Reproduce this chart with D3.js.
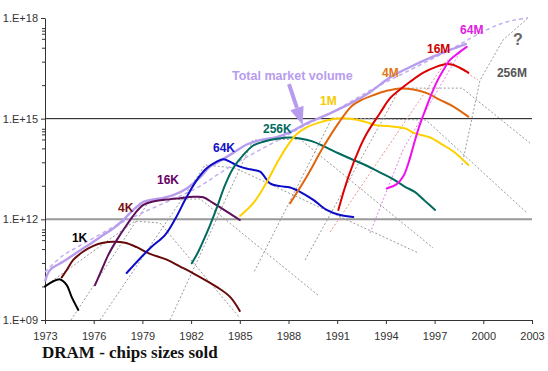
<!DOCTYPE html>
<html>
<head>
<meta charset="utf-8">
<script src="https://cdn.jsdelivr.net/npm/d3@7"></script>
<style>
  body { margin: 0; background: #fff; }
  svg { display: block; font-family: Arial, "Liberation Sans", sans-serif; }
</style>
</head>
<body>
<div id="chart-area"></div>
<script>
// values are [year, log10(chips sold)]
const gen1K = [[1973.0,10.0],[1973.92,10.21],[1974.34,10.04],[1974.64,9.69],[1975.05,9.3]];
const gen4K = [[1974.03,10.27],[1974.34,10.49],[1974.74,10.79],[1975.36,11.04],[1975.98,11.21],[1976.59,11.30],
  [1977.21,11.33],[1977.93,11.30],[1978.65,11.17],[1979.47,10.97],[1980.5,10.8],[1981.3,10.6],[1982.1,10.4],
  [1983.6,9.98],[1984.4,9.69],[1985.0,9.27]];
const gen16K = [[1976.08,10.04],[1976.49,10.49],[1976.9,10.94],[1977.42,11.38],[1978.03,11.83],[1978.55,12.18],
  [1979.06,12.43],[1979.67,12.53],[1980.7,12.6],[1981.32,12.63],[1982.14,12.67],[1982.75,12.66],[1983.37,12.48],
  [1984.2,12.23],[1985.0,11.98]];
const gen64K = [[1978.03,10.40],[1979.47,11.14],[1980.39,11.53],[1981.01,12.0],[1981.73,12.67],[1982.35,13.17],
  [1982.96,13.52],[1983.58,13.72],[1983.99,13.79],[1984.5,13.69],[1985.01,13.57],[1985.63,13.49],[1986.25,13.42],
  [1986.86,13.07],[1987.48,12.99],[1988.1,12.95],[1988.71,12.82],[1989.53,12.58],[1990.35,12.28],[1991.17,12.13],
  [1991.99,12.07]];
const gen256K = [[1982.04,10.69],[1982.45,11.04],[1982.86,11.48],[1983.17,11.83],[1983.58,12.34],[1984.09,13.02],
  [1984.6,13.53],[1985.22,13.92],[1985.83,14.2],[1986.45,14.31],[1987.28,14.40],[1988.1,14.44],[1988.71,14.41],
  [1989.43,14.33],[1990.25,14.16],[1991.07,13.97],[1991.9,13.79],[1992.72,13.62],[1993.54,13.42],[1994.36,13.22],
  [1995.18,12.97],[1995.8,12.81],[1996.4,12.55],[1997.03,12.28]];
const gen1M = [[1985.01,12.1],[1985.83,12.48],[1986.66,13.11],[1987.28,13.67],[1987.89,14.16],[1988.51,14.54],
  [1989.12,14.74],[1989.94,14.89],[1990.87,15.0],[1991.79,15.0],[1992.72,14.91],[1993.33,14.81],[1994.15,14.78],
  [1995.18,14.71],[1995.8,14.56],[1996.72,14.44],[1997.54,14.21],[1998.16,14.02],[1999.08,13.62]];
const gen4M = [[1988.1,12.48],[1989.12,13.27],[1990.15,14.16],[1991.07,14.86],[1991.9,15.38],[1992.51,15.56],
  [1993.23,15.70],[1994.05,15.83],[1994.87,15.9],[1995.69,15.87],[1996.52,15.76],[1997.34,15.56],[1998.16,15.36],
  [1999.08,15.06]];
const gen16M = [[1991.07,12.28],[1991.69,13.27],[1992.41,14.16],[1992.82,14.56],[1993.64,15.17],[1994.26,15.61],
  [1994.87,15.87],[1995.49,16.1],[1996.31,16.37],[1997.13,16.55],[1997.75,16.63],[1998.16,16.60],[1998.57,16.51],
  [1999.08,16.37]];
const gen64M = [[1994.05,12.92],[1994.67,13.05],[1995.08,13.29],[1995.39,13.68],[1995.69,14.18],[1996.0,14.69],
  [1996.31,15.11],[1996.72,15.63],[1997.13,16.09],[1997.54,16.45],[1997.95,16.75],[1998.47,16.96],[1998.98,17.14]];

const totalMarket = [[1973.0,10.15],[1973.31,10.49],[1974.13,10.74],[1974.74,10.94],[1975.36,11.14],[1975.98,11.33],
  [1976.59,11.53],[1977.21,11.73],[1977.82,11.98],[1978.44,12.28],[1979.06,12.52],[1979.67,12.59],[1980.29,12.64],
  [1980.9,12.72],[1981.73,12.92],[1982.55,13.25],[1983.17,13.57],[1983.78,13.74],[1984.6,13.98],[1985.43,14.23],
  [1986.25,14.36],[1987.28,14.45],[1988.1,14.6],[1989.12,14.86],[1990.56,15.16],[1992.0,15.5],[1993.02,15.79],
  [1994.26,16.23],[1995.49,16.54],[1996.72,16.81],[1997.95,17.05],[1998.98,17.24]];
const totalTrend = [[1973.0,10.43],[1974.05,10.9],[1975.16,11.22],[1976.39,11.55],[1977.62,11.88],[1978.85,12.16],
  [1980.08,12.43],[1981.32,12.69],[1982.55,12.99],[1983.78,13.38],[1985.01,13.74],[1986.24,14.07],[1987.48,14.39],
  [1988.71,14.72],[1989.94,15.02],[1991.17,15.32],[1992.40,15.67],[1993.64,16.0],[1994.87,16.30],[1996.1,16.60],
  [1997.33,16.9],[1998.57,17.22],[1999.8,17.55],[2001.03,17.82],[2001.95,17.94],[2002.75,18.0]];

// idealised life-cycle of each generation (grey dotted)
const model4K = [[1973.0,10.01],[1978.54,11.95],[1980.08,11.89],[1985.0,9.06]];
const model16K = [[1974.6,9.0],[1979.47,12.58],[1982.55,12.61],[1989.82,9.74]];
const model64K = [[1976.39,9.0],[1982.86,13.62],[1984.7,13.53],[1995.98,11.0]];
const model256K = [[1980.7,9.0],[1985.81,14.36],[1988.71,14.39],[1996.9,11.15]];
const model1M = [[1985.9,10.45],[1990.68,15.02],[1996.47,14.96],[2002.69,12.19]];
const model4M = [[1989.02,10.79],[1994.87,15.91],[1998.69,15.91],[2002.88,14.27]];
const model16M = [[1990.56,11.62],[1997.76,16.75],[1999.68,16.15]];
const model64M = [[1993.02,11.59],[1995.05,14.07],[1998.57,16.99]];
const model256M = [[1998.69,13.62],[1999.8,16.15],[2001.21,17.34],[2002.75,18.0]];

const yearTicks = d3.range(1973, 2004, 3);
const majorExp = [9, 12, 15, 18];
const minorMult = [10, 50, 130, 240, 340, 420, 500];

const labels = [
  { text: "1K", at: [1974.66, 11.32], color: "#000000" },
  { text: "4K", at: [1977.5, 12.23], color: "#7a1010" },
  { text: "16K", at: [1979.9, 13.05], color: "#660066" },
  { text: "64K", at: [1983.35, 14.01], color: "#1010c8" },
  { text: "256K", at: [1986.43, 14.57], color: "#006a5e" },
  { text: "1M", at: [1989.94, 15.41], color: "#f5cc00" },
  { text: "4M", at: [1993.76, 16.24], color: "#e07818" },
  { text: "16M", at: [1996.53, 16.96], color: "#cc0000" },
  { text: "64M", at: [1998.57, 17.52], color: "#e020e0" },
  { text: "256M", at: [2000.84, 16.25], color: "#555555" }
];

const width = 548, height = 371;
const P = e => Math.pow(10, e);

const x = d3.scaleLinear().domain([1973, 2003]).range([45, 532]);
const y = d3.scaleLog().domain([1e9, 1e18]).range([320, 18]);

const svg = d3.select("#chart-area")
  .append("svg")
  .attr("width", width)
  .attr("height", height);

svg.append("rect").attr("width", width).attr("height", height).attr("fill", "#fff");

// horizontal reference lines
svg.append("line")
  .attr("x1", x(1973)).attr("x2", x(2003))
  .attr("y1", y(1e15)).attr("y2", y(1e15))
  .attr("stroke", "#111").attr("stroke-width", 1);
svg.append("line")
  .attr("x1", x(1973)).attr("x2", x(2003))
  .attr("y1", y(1e12)).attr("y2", y(1e12))
  .attr("stroke", "#999").attr("stroke-width", 2);

// axes
const xAxis = svg.append("g")
  .attr("transform", `translate(0,${y(1e9)})`)
  .call(d3.axisBottom(x).tickValues(yearTicks).tickSize(4).tickSizeOuter(0)
    .tickPadding(8).tickFormat(d3.format("d")));

const minorTicks = [];
[9, 12, 15].forEach(e => minorMult.forEach(m => minorTicks.push(P(e) * m)));
svg.append("g")
  .attr("transform", `translate(${x(1973)},0)`)
  .call(d3.axisLeft(y).tickValues(minorTicks).tickSize(3).tickFormat(""))
  .call(g => g.select(".domain").remove());

const yAxis = svg.append("g")
  .attr("transform", `translate(${x(1973)},0)`)
  .call(d3.axisLeft(y).tickValues(majorExp.map(P)).tickSize(4).tickSizeOuter(0).tickPadding(3)
    .tickFormat(d => "1.E+" + String(Math.round(Math.log10(d))).padStart(2, "0")));

[xAxis, yAxis].forEach(g => {
  g.selectAll(".domain, line").attr("stroke", "#333");
  g.selectAll("text").attr("fill", "#333").attr("font-size", 11);
});
svg.selectAll("g line").attr("stroke", "#333");

const line = d3.line()
  .x(d => x(d[0]))
  .y(d => y(P(d[1])));
const smooth = d3.line()
  .x(d => x(d[0]))
  .y(d => y(P(d[1])))
  .curve(d3.curveCatmullRom.alpha(0.5));

// grey dotted life-cycle models
const models = [model4K, model16K, model64K, model256K, model1M, model4M, model256M];
svg.append("g").selectAll("path")
  .data(models)
  .enter().append("path")
  .attr("d", line)
  .attr("fill", "none")
  .attr("stroke", "#999")
  .attr("stroke-width", 1)
  .attr("stroke-dasharray", "2,2");

svg.append("path").attr("d", line(model16M))
  .attr("fill", "none").attr("stroke", "#ec9090").attr("stroke-width", 1).attr("stroke-dasharray", "2,2");
svg.append("path").attr("d", line(model64M))
  .attr("fill", "none").attr("stroke", "#e080e0").attr("stroke-width", 1).attr("stroke-dasharray", "2,2");

// total market
const lavender = "#b79cee";
svg.append("path").attr("d", smooth(totalTrend))
  .attr("fill", "none").attr("stroke", "#c4aef2").attr("stroke-width", 1.5)
  .attr("stroke-dasharray", "4,3");
svg.append("path").attr("d", smooth(totalMarket))
  .attr("fill", "none").attr("stroke", lavender).attr("stroke-width", 2.4);

// generations
const series = [
  { data: gen1K, color: "#000000" },
  { data: gen4K, color: "#660a0a" },
  { data: gen16K, color: "#5e0f5a" },
  { data: gen64K, color: "#0a0ac8" },
  { data: gen256K, color: "#006a5e" },
  { data: gen1M, color: "#ffd000" },
  { data: gen4M, color: "#e0660e" },
  { data: gen16M, color: "#dd0000" },
  { data: gen64M, color: "#ee10ee" }
];
svg.append("g").selectAll("path")
  .data(series)
  .enter().append("path")
  .attr("d", d => smooth(d.data))
  .attr("fill", "none")
  .attr("stroke", d => d.color)
  .attr("stroke-width", 2)
  .attr("stroke-linecap", "round");

// labels
svg.append("g").selectAll("text")
  .data(labels)
  .enter().append("text")
  .attr("x", d => x(d.at[0]))
  .attr("y", d => y(P(d.at[1])))
  .attr("fill", d => d.color)
  .attr("font-size", 12)
  .attr("font-weight", "bold")
  .text(d => d.text);

svg.append("text")
  .attr("x", x(2001.83)).attr("y", y(P(17.19)))
  .attr("fill", "#666").attr("font-size", 16).attr("font-weight", "bold")
  .text("?");

svg.append("text")
  .attr("x", x(1984.52)).attr("y", y(P(16.15)))
  .attr("fill", lavender).attr("font-size", 12.5).attr("font-weight", "bold")
  .text("Total market volume");

// arrow to the total market line
const tail = [x(1988.03), y(P(16.03))];
const tip = [x(1988.87), y(P(14.81))];
const ang = Math.atan2(tip[1] - tail[1], tip[0] - tail[0]);
const headLen = 18, headW = 7;
const base = [tip[0] - headLen * Math.cos(ang), tip[1] - headLen * Math.sin(ang)];
svg.append("line")
  .attr("x1", tail[0]).attr("y1", tail[1])
  .attr("x2", base[0]).attr("y2", base[1])
  .attr("stroke", lavender).attr("stroke-width", 4);
svg.append("polygon")
  .attr("points", [
    tip,
    [base[0] + headW * Math.sin(ang), base[1] - headW * Math.cos(ang)],
    [base[0] - headW * Math.sin(ang), base[1] + headW * Math.cos(ang)]
  ].map(p => p.join(",")).join(" "))
  .attr("fill", lavender);

// title
svg.append("text")
  .attr("x", 42).attr("y", 358)
  .attr("font-family", "'Liberation Serif', 'Times New Roman', serif")
  .attr("font-size", 17).attr("font-weight", "bold")
  .attr("fill", "#111")
  .text("DRAM - chips sizes sold");
</script>
</body>
</html>
